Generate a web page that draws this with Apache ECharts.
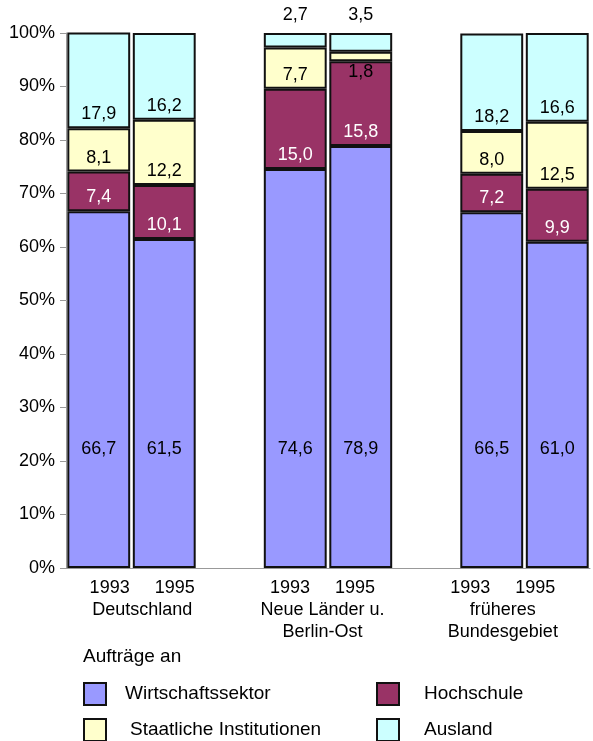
<!DOCTYPE html>
<html>
<head>
<meta charset="utf-8">
<script src="https://cdn.jsdelivr.net/npm/echarts@6/dist/echarts.min.js"></script>
<style>
  html, body { margin: 0; padding: 0; background: #fff; }
  #main { width: 593px; height: 741px; }
</style>
</head>
<body>
<div id="main"></div>
<script>
// Gruppen und Jahre
const groups = ['Deutschland', 'Neue Länder u.\nBerlin-Ost', 'früheres\nBundesgebiet'];
const years = ['1993', '1995'];
// Balken-Kategorien (mit Lücken zwischen den Gruppen)
const slots = ['D 1993', 'D 1995', 'gap1', 'N 1993', 'N 1995', 'gap2', 'F 1993', 'F 1995'];
const yTicks = [0, 10, 20, 30, 40, 50, 60, 70, 80, 90, 100];

// Anteile in %
const wirtschaft = [66.7, 61.5, 74.6, 78.9, 66.5, 61.0];
const hochschule = [7.4, 10.1, 15.0, 15.8, 7.2, 9.9];
const staatlich = [8.1, 12.2, 7.7, 1.8, 8.0, 12.5];
const ausland = [17.9, 16.2, 2.7, 3.5, 18.2, 16.6];

const names = ['Wirtschaftssektor', 'Hochschule', 'Staatliche Institutionen', 'Ausland'];
const colors = ['#9999ff', '#993366', '#ffffcc', '#ccffff'];
const font = "'Liberation Sans', Arial, sans-serif";

// 6 Werte auf 8 Plätze verteilen
const spread = (arr) => {
    const out = [];
    let k = 0;
    slots.forEach(s => {
        if (s.startsWith('gap')) out.push('-');
        else out.push(arr[k++]);
    });
    return out;
};
const fmt = (p) => p.value.toFixed(1).replace('.', ',');

const chart = echarts.init(document.getElementById('main'));

const makeSeries = (idx, arr, labelColor, itemFn) => ({
    name: names[idx],
    type: 'bar',
    stack: 'total',
    xAxisIndex: 0,
    yAxisIndex: 0,
    barCategoryGap: '4%',
    itemStyle: { color: colors[idx], borderColor: '#111', borderWidth: 2 },
    label: {
        show: true,
        position: 'insideBottom',
        distance: idx === 0 ? 110 : 5,
        color: labelColor,
        fontSize: 18,
        fontFamily: font,
        formatter: fmt
    },
    data: spread(arr).map(v => itemFn ? itemFn(v) : v)
});

// eine Legende pro Eintrag (2 Spalten)
const legendItem = (name, left, top, pad) => ({
    data: [name],
    left: left,
    top: top,
    itemWidth: 22,
    itemHeight: 22,
    icon: 'rect',
    padding: 0,
    textStyle: { fontSize: 19, color: '#000', padding: [0, 0, 0, pad], fontFamily: font }
});

const option = {
    animation: false,
    textStyle: { fontFamily: font },
    title: {
        text: 'Aufträge an',
        left: 78,
        top: 642,
        textStyle: { fontSize: 19, fontWeight: 'normal', color: '#000', fontFamily: font }
    },
    legend: [
        legendItem(names[0], 83, 682, 14),
        legendItem(names[2], 83, 718, 19),
        legendItem(names[1], 376, 682, 20),
        legendItem(names[3], 376, 718, 20)
    ],
    grid: [
        { left: 66, right: 3, top: 33, bottom: 173 },
        { left: 52, width: 551, top: 33, bottom: 173 }
    ],
    xAxis: [
        {
            type: 'category',
            gridIndex: 0,
            data: slots,
            axisLine: { lineStyle: { color: '#999', width: 1 } },
            axisTick: { show: false },
            axisLabel: { show: false }
        },
        {
            type: 'category',
            gridIndex: 1,
            data: groups,
            axisLine: { show: false },
            axisTick: { show: false },
            axisLabel: {
                margin: 9,
                fontSize: 18,
                lineHeight: 22,
                color: '#000',
                fontFamily: font,
                formatter: (g) => years.join('     ') + '\n' + g
            }
        }
    ],
    yAxis: [
        {
            type: 'value',
            gridIndex: 0,
            min: yTicks[0],
            max: yTicks[yTicks.length - 1],
            interval: 10,
            splitLine: { show: false },
            axisLine: { show: true, lineStyle: { color: '#999' } },
            axisTick: { show: true, length: 6, lineStyle: { color: '#999' } },
            axisLabel: {
                margin: 11,
                fontSize: 18,
                color: '#000',
                fontFamily: font,
                formatter: '{value}%'
            }
        },
        { type: 'value', gridIndex: 1, show: false, min: 0, max: 100 }
    ],
    series: [
        makeSeries(0, wirtschaft, '#000'),
        makeSeries(1, hochschule, '#fff'),
        // sehr kleiner Abschnitt: Beschriftung unterhalb
        makeSeries(2, staatlich, '#000', v => (v !== '-' && v < 3)
            ? { value: v, label: { position: 'bottom', distance: 2, color: '#000' } }
            : v),
        // kleiner Auslandsanteil: Beschriftung über dem Balken
        makeSeries(3, ausland, '#000', v => (v !== '-' && v < 5)
            ? { value: v, label: { position: 'top', distance: 9 } }
            : v)
    ]
};

chart.setOption(option);
</script>
</body>
</html>
